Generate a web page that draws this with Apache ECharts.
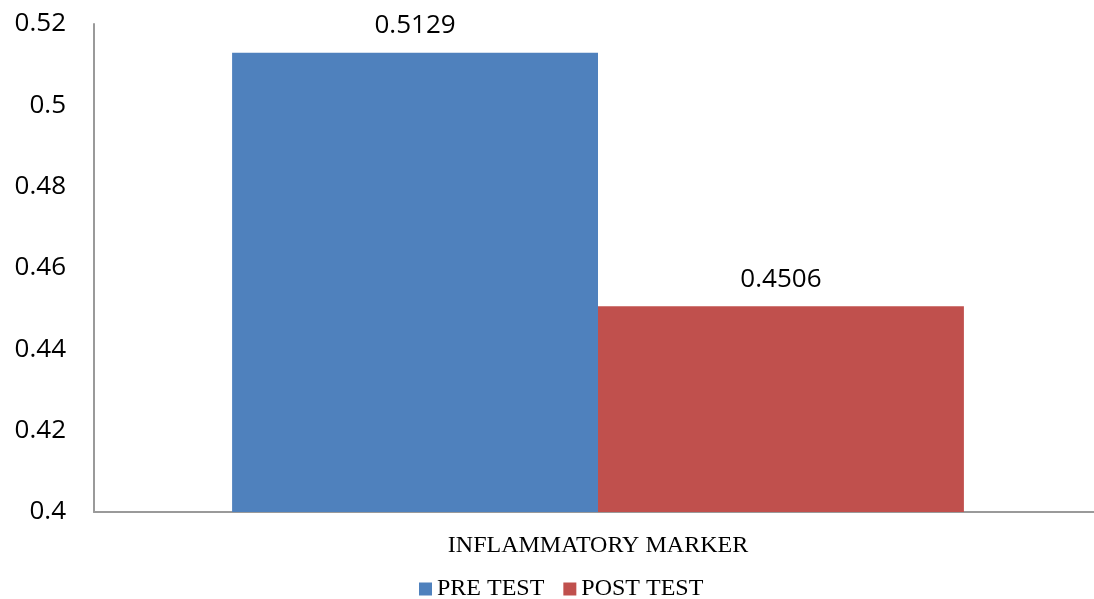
<!DOCTYPE html>
<html>
<head>
<meta charset="utf-8">
<script src="https://cdn.jsdelivr.net/npm/echarts@6/dist/echarts.min.js"></script>
<style>
  html, body { margin: 0; padding: 0; background: #fff; overflow: hidden; }
  /* drawing surface runs a few pixels past the window so the plot area is cut on the right */
  #chart { width: 1102px; height: 599px; }
</style>
</head>
<body>
<div id="chart"></div>
<script>
// Inflammatory marker, pre vs post test
const categories = ['INFLAMMATORY MARKER'];
const seriesNames = ['PRE TEST', 'POST TEST'];
const preTest = [0.5129];
const postTest = [0.4506];
const seriesColors = ['#4F81BD', '#C0504D'];

const chart = echarts.init(document.getElementById('chart'), null, { renderer: 'canvas' });

const valueLabel = {
  show: true,
  position: 'top',
  distance: 14,
  fontFamily: 'Open Sans',
  fontSize: 26,
  color: '#000',
  formatter: p => p.value.toFixed(4)
};

chart.setOption({
  animation: false,
  backgroundColor: '#fff',
  grid: { left: 94, right: 0, top: 24, bottom: 87, containLabel: false },
  legend: {
    data: seriesNames,
    top: 572,
    left: 414,
    icon: 'rect',
    itemWidth: 13,
    itemHeight: 13,
    itemGap: 19,
    textStyle: { fontFamily: 'Liberation Serif', fontSize: 24, color: '#000' }
  },
  xAxis: {
    type: 'category',
    data: categories,
    axisLine: { lineStyle: { color: '#9a9a9a', width: 2 } },
    axisTick: { show: false },
    axisLabel: {
      margin: 22,
      fontFamily: 'Liberation Serif',
      fontSize: 24,
      color: '#000'
    }
  },
  yAxis: {
    type: 'value',
    min: 0.4,
    max: 0.52,
    interval: 0.02,
    splitLine: { show: false },
    axisLine: { show: true, lineStyle: { color: '#9a9a9a', width: 2 } },
    axisTick: { show: false },
    axisLabel: {
      margin: 28,
      fontFamily: 'Open Sans',
      fontSize: 26,
      color: '#000',
      formatter: v => String(+v.toFixed(2))
    }
  },
  series: [
    {
      name: seriesNames[0],
      type: 'bar',
      data: preTest,
      itemStyle: { color: seriesColors[0] },
      barGap: '0%',
      barCategoryGap: '27.4%',
      label: valueLabel
    },
    {
      name: seriesNames[1],
      type: 'bar',
      data: postTest,
      itemStyle: { color: seriesColors[1] },
      barGap: '0%',
      barCategoryGap: '27.4%',
      label: valueLabel
    }
  ]
});
</script>
</body>
</html>
